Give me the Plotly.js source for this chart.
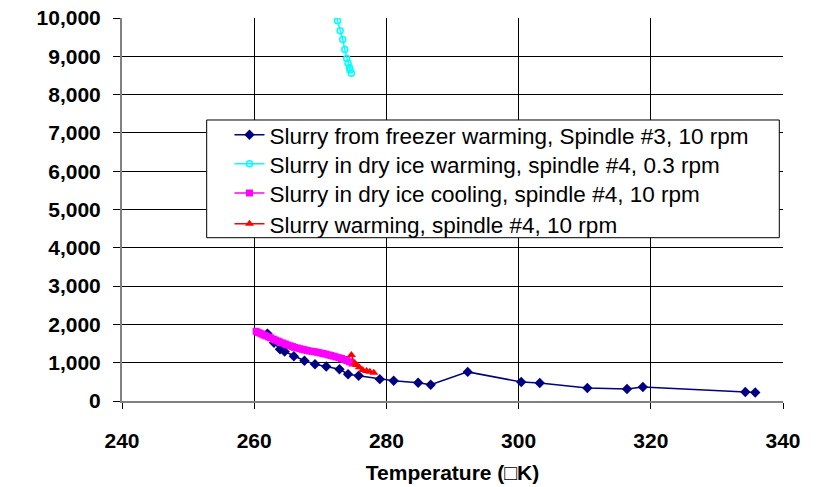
<!DOCTYPE html>
<html>
<head>
<meta charset="utf-8">
<script src="https://cdn.plot.ly/plotly-3.0.1.min.js"></script>
<style>html,body{margin:0;padding:0;background:#fff;}#chart{width:819px;height:487px;}</style>
</head>
<body>
<div id="chart"></div>
<script>
// Series names
const seriesNames = [
  "Slurry from freezer warming, Spindle #3, 10 rpm",
  "Slurry in dry ice warming, spindle #4, 0.3 rpm",
  "Slurry in dry ice cooling, spindle #4, 10 rpm",
  "Slurry warming, spindle #4, 10 rpm"
];

// Slurry from freezer warming, Spindle #3, 10 rpm
const freezerT = [262.0, 263.0, 263.9, 264.6, 266.0, 267.6, 269.2, 270.9, 272.9, 274.2, 275.8, 279.0, 281.1, 284.8, 286.7, 292.3, 300.4, 303.2, 310.4, 316.4, 318.8, 334.3, 335.8];
const freezerV = [1760, 1520, 1350, 1290, 1170, 1050, 960, 900, 830, 700, 660, 570, 530, 478, 423, 760, 496, 470, 339, 313, 365, 235, 222];

// Slurry in dry ice warming, spindle #4, 0.3 rpm
const dryWarmT = [272.5, 272.6, 273.0, 273.4, 273.7, 274.0, 274.2, 274.4, 274.5, 274.7];
const dryWarmV = [10100, 9930, 9670, 9440, 9180, 8940, 8820, 8710, 8640, 8560];

// Slurry in dry ice cooling, spindle #4, 10 rpm
const dryCoolT = [260.3, 260.6, 260.9, 261.2, 261.5, 261.8, 262.2, 262.5, 262.9, 263.2, 263.6, 263.9, 264.3, 264.7, 265.0, 265.4, 265.8, 266.1, 266.5, 266.9, 267.3, 267.6, 268.0, 268.4, 268.8, 269.2, 269.6, 270.0, 270.4, 270.8, 271.2, 271.6, 272.0, 272.4, 272.8, 273.2, 273.6, 274.0, 274.4, 274.8];
const dryCoolV = [1820, 1790, 1770, 1745, 1720, 1700, 1670, 1650, 1615, 1590, 1565, 1540, 1515, 1490, 1465, 1445, 1420, 1400, 1385, 1365, 1350, 1335, 1320, 1305, 1295, 1285, 1270, 1255, 1240, 1225, 1205, 1190, 1170, 1150, 1130, 1110, 1085, 1055, 1025, 990];

// Slurry warming, spindle #4, 10 rpm
const slurryWarmT = [274.7, 275.2, 275.5, 275.9, 276.4, 277.0, 277.5, 278.1];
const slurryWarmV = [1200, 985, 940, 880, 810, 785, 765, 740];

// Axis ticks
const xTicks = [240, 260, 280, 300, 320, 340];
const yTicks = [0, 1000, 2000, 3000, 4000, 5000, 6000, 7000, 8000, 9000, 10000];
const yTickLabels = ["0", "1,000", "2,000", "3,000", "4,000", "5,000", "6,000", "7,000", "8,000", "9,000", "10,000"];
const xTitle = "Temperature (\u25A1K)";

const FONT = "Liberation Sans, Arial, sans-serif";

const traces = [
  {x: freezerT, y: freezerV, name: seriesNames[0], type: "scatter", mode: "lines+markers", legend: "legend",
   line: {color: "#000080", width: 1.5}, marker: {symbol: "diamond", size: 8, color: "#000080"}},
  {x: dryWarmT, y: dryWarmV, name: seriesNames[1], type: "scatter", mode: "lines+markers", legend: "legend2",
   line: {color: "#00FFFF", width: 1.5}, marker: {symbol: "circle-open", size: 6, color: "#00FFFF", line: {width: 1.5}}},
  {x: dryCoolT, y: dryCoolV, name: seriesNames[2], type: "scatter", mode: "lines+markers", legend: "legend3",
   line: {color: "#FF00FF", width: 1.5}, marker: {symbol: "square", size: 7, color: "#FF00FF"}},
  {x: slurryWarmT, y: slurryWarmV, name: seriesNames[3], type: "scatter", mode: "lines+markers", legend: "legend4",
   line: {color: "#FF0000", width: 1.5}, marker: {symbol: "triangle-up", size: 8, color: "#FF0000"}}
];

function legendAt(yc) {
  return {
    x: 0.1626, y: yc, xanchor: "left", yanchor: "middle",
    bgcolor: "rgba(0,0,0,0)", borderwidth: 0,
    font: {family: FONT, size: 22.5, color: "#000"}
  };
}

const layout = {
  width: 819, height: 487,
  margin: {l: 122, r: 36, t: 18, b: 86, pad: 0},
  paper_bgcolor: "#fff", plot_bgcolor: "#fff",
  showlegend: true,
  legend: legendAt(0.6940),
  legend2: legendAt(0.6183),
  legend3: legendAt(0.5420),
  legend4: legendAt(0.4615),
  shapes: [{
    type: "rect", xref: "paper", yref: "paper",
    x0: 0.1281, x1: 0.9944, y0: 0.4264, y1: 0.7337,
    fillcolor: "#fff", line: {color: "#000", width: 1}, layer: "above"
  }],
  xaxis: {
    range: [240, 340], tickvals: xTicks, ticktext: xTicks.map(String),
    ticks: "outside", ticklen: 6, tickcolor: "#000",
    showgrid: true, gridcolor: "#000", gridwidth: 1,
    showline: true, linecolor: "#808080", linewidth: 2,
    zeroline: false,
    tickfont: {family: FONT, size: 21, color: "#000", weight: "bold"},
    ticklabelstandoff: 14,
    title: {text: xTitle, font: {family: FONT, size: 21, color: "#000", weight: "bold"}, standoff: 14}
  },
  yaxis: {
    range: [0, 10000], tickvals: yTicks, ticktext: yTickLabels,
    ticks: "outside", ticklen: 7, tickcolor: "#000",
    showgrid: true, gridcolor: "#000", gridwidth: 1,
    showline: true, linecolor: "#808080", linewidth: 2,
    zeroline: false,
    tickfont: {family: FONT, size: 21, color: "#000", weight: "bold"},
    ticklabelstandoff: 8
  }
};

Plotly.newPlot("chart", traces, layout, {displayModeBar: false, staticPlot: true});
</script>
</body>
</html>
